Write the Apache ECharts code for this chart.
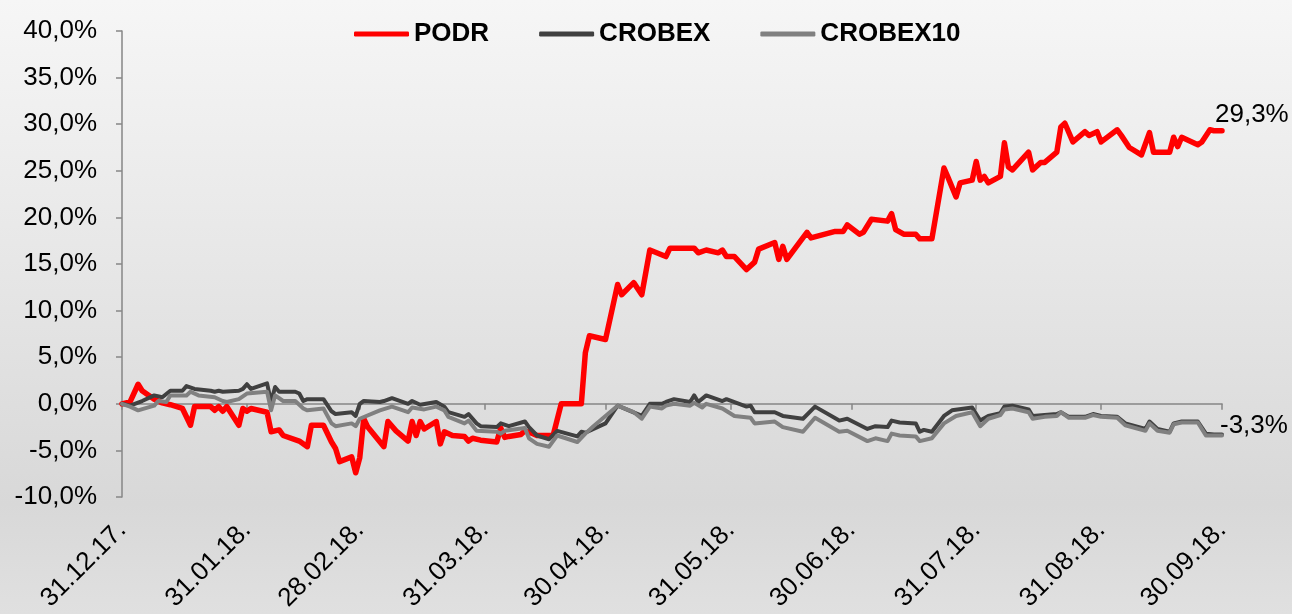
<!DOCTYPE html>
<html><head><meta charset="utf-8">
<script src="https://cdn.jsdelivr.net/npm/echarts@6/dist/echarts.min.js"></script>
<style>
html,body{margin:0;padding:0;}
body{width:1292px;height:614px;background:linear-gradient(to bottom,#f6f6f6 0%,#e6e6e6 45%,#d8d8d8 82%,#e0e0e0 100%);}
#c{width:1292px;height:614px;}
</style></head>
<body><div id="c"></div>
<script>
const seriesNames = ['PODR', 'CROBEX', 'CROBEX10'];
const monthEnds = ['2017-12-31','2018-01-31','2018-02-28','2018-03-31','2018-04-30','2018-05-31','2018-06-30','2018-07-31','2018-08-31','2018-09-30'];
const yTicks = [-10, -5, 0, 5, 10, 15, 20, 25, 30, 35, 40];

const podrDates = ['2017-12-31','2018-01-02','2018-01-04','2018-01-05','2018-01-08','2018-01-10','2018-01-12','2018-01-15','2018-01-17','2018-01-18','2018-01-22','2018-01-23','2018-01-24','2018-01-25','2018-01-26','2018-01-29','2018-01-30','2018-01-31','2018-02-01','2018-02-05','2018-02-06','2018-02-08','2018-02-09','2018-02-13','2018-02-15','2018-02-16','2018-02-19','2018-02-21','2018-02-22','2018-02-23','2018-02-26','2018-02-27','2018-02-28','2018-03-01','2018-03-02','2018-03-06','2018-03-07','2018-03-09','2018-03-12','2018-03-13','2018-03-14','2018-03-15','2018-03-16','2018-03-19','2018-03-20','2018-03-21','2018-03-23','2018-03-26','2018-03-27','2018-03-28','2018-03-30','2018-04-03','2018-04-04','2018-04-05','2018-04-06','2018-04-09','2018-04-10','2018-04-12','2018-04-13','2018-04-17','2018-04-19','2018-04-24','2018-04-25','2018-04-26','2018-04-30','2018-05-03','2018-05-04','2018-05-07','2018-05-09','2018-05-11','2018-05-15','2018-05-16','2018-05-22','2018-05-23','2018-05-25','2018-05-28','2018-05-29','2018-05-30','2018-06-01','2018-06-04','2018-06-06','2018-06-07','2018-06-11','2018-06-12','2018-06-13','2018-06-14','2018-06-19','2018-06-20','2018-06-26','2018-06-28','2018-06-29','2018-07-02','2018-07-03','2018-07-05','2018-07-09','2018-07-10','2018-07-11','2018-07-13','2018-07-16','2018-07-17','2018-07-20','2018-07-23','2018-07-24','2018-07-26','2018-07-27','2018-07-30','2018-07-31','2018-08-01','2018-08-02','2018-08-03','2018-08-06','2018-08-07','2018-08-08','2018-08-09','2018-08-13','2018-08-14','2018-08-16','2018-08-17','2018-08-20','2018-08-21','2018-08-22','2018-08-24','2018-08-27','2018-08-28','2018-08-30','2018-08-31','2018-09-04','2018-09-05','2018-09-07','2018-09-10','2018-09-12','2018-09-13','2018-09-17','2018-09-18','2018-09-19','2018-09-20','2018-09-24','2018-09-25','2018-09-27','2018-09-28','2018-09-30'];
const podrValues = [0.0,0.2,2.1,1.4,0.5,0.1,-0.1,-0.5,-2.3,-0.3,-0.3,-0.7,-0.3,-0.8,-0.3,-2.3,-0.5,-0.8,-0.5,-0.9,-3.0,-2.8,-3.4,-4.0,-4.6,-2.3,-2.3,-4.1,-4.8,-6.2,-5.7,-7.4,-5.8,-1.6,-2.5,-4.6,-1.9,-2.9,-4.0,-1.9,-3.4,-1.9,-2.7,-1.9,-4.3,-3.0,-3.4,-3.5,-4.0,-3.7,-3.9,-4.1,-2.6,-3.6,-3.5,-3.3,-2.9,-3.2,-3.4,-3.4,0.0,0.0,5.5,7.3,6.9,12.8,11.7,13.0,11.7,16.5,15.8,16.7,16.7,16.2,16.5,16.2,16.5,15.8,15.8,14.4,15.2,16.6,17.3,15.5,16.9,15.5,18.4,17.8,18.5,18.5,19.2,18.2,18.4,19.8,19.6,20.4,18.7,18.2,18.2,17.7,17.7,25.3,24.3,22.2,23.7,24.0,26.0,24.0,24.4,23.7,24.4,28.0,25.4,25.1,27.0,25.1,25.9,25.9,27.0,29.7,30.1,28.1,29.2,28.8,29.2,28.1,29.4,28.8,27.5,26.7,29.1,27.0,27.0,28.6,27.6,28.6,27.8,28.1,29.4,29.3,29.3];

const crobexDates = ['2017-12-31','2018-01-02','2018-01-05','2018-01-08','2018-01-10','2018-01-12','2018-01-15','2018-01-16','2018-01-18','2018-01-22','2018-01-23','2018-01-24','2018-01-25','2018-01-29','2018-01-30','2018-01-31','2018-02-01','2018-02-05','2018-02-06','2018-02-07','2018-02-08','2018-02-12','2018-02-13','2018-02-14','2018-02-15','2018-02-19','2018-02-21','2018-02-22','2018-02-26','2018-02-27','2018-02-28','2018-03-01','2018-03-05','2018-03-06','2018-03-08','2018-03-12','2018-03-13','2018-03-15','2018-03-19','2018-03-21','2018-03-22','2018-03-26','2018-03-27','2018-03-29','2018-03-30','2018-04-03','2018-04-04','2018-04-06','2018-04-10','2018-04-11','2018-04-13','2018-04-16','2018-04-18','2018-04-23','2018-04-24','2018-04-25','2018-04-30','2018-05-03','2018-05-08','2018-05-09','2018-05-11','2018-05-14','2018-05-15','2018-05-17','2018-05-21','2018-05-22','2018-05-23','2018-05-25','2018-05-29','2018-05-30','2018-06-04','2018-06-05','2018-06-06','2018-06-11','2018-06-13','2018-06-18','2018-06-21','2018-06-27','2018-06-29','2018-07-04','2018-07-06','2018-07-09','2018-07-10','2018-07-12','2018-07-16','2018-07-17','2018-07-18','2018-07-20','2018-07-23','2018-07-25','2018-07-30','2018-08-01','2018-08-03','2018-08-06','2018-08-07','2018-08-09','2018-08-13','2018-08-14','2018-08-17','2018-08-20','2018-08-21','2018-08-23','2018-08-27','2018-08-29','2018-08-31','2018-09-04','2018-09-06','2018-09-11','2018-09-12','2018-09-14','2018-09-17','2018-09-18','2018-09-20','2018-09-24','2018-09-26','2018-09-28','2018-09-30'];
const crobexValues = [0.0,-0.2,0.3,0.9,0.7,1.4,1.4,1.9,1.6,1.4,1.3,1.4,1.3,1.4,1.6,2.1,1.6,2.2,0.2,1.8,1.3,1.3,1.1,0.3,0.5,0.5,-0.8,-1.1,-0.9,-1.3,0.0,0.3,0.2,0.3,0.6,0.0,0.3,-0.1,0.2,-0.3,-0.9,-1.4,-1.1,-2.1,-2.4,-2.5,-2.1,-2.4,-1.9,-2.5,-3.4,-3.8,-2.9,-3.5,-3.0,-3.1,-2.1,-0.2,-1.1,-1.3,0.0,0.0,0.2,0.5,0.2,0.9,0.2,0.9,0.3,0.5,-0.3,-0.2,-0.9,-0.9,-1.3,-1.6,-0.3,-1.8,-1.6,-2.7,-2.4,-2.5,-1.8,-2.0,-2.1,-3.0,-2.8,-3.0,-1.3,-0.7,-0.4,-1.8,-1.3,-1.0,-0.3,-0.2,-0.6,-1.3,-1.2,-1.1,-0.9,-1.4,-1.4,-1.1,-1.3,-1.4,-2.1,-2.7,-1.9,-2.7,-3.0,-2.1,-1.9,-1.9,-3.2,-3.3,-3.3];

const crobex10Dates = ['2017-12-31','2018-01-02','2018-01-04','2018-01-08','2018-01-09','2018-01-11','2018-01-12','2018-01-16','2018-01-17','2018-01-19','2018-01-23','2018-01-25','2018-01-26','2018-01-29','2018-01-31','2018-02-05','2018-02-06','2018-02-07','2018-02-09','2018-02-12','2018-02-14','2018-02-15','2018-02-19','2018-02-21','2018-02-22','2018-02-26','2018-02-27','2018-02-28','2018-03-05','2018-03-08','2018-03-12','2018-03-13','2018-03-16','2018-03-19','2018-03-21','2018-03-22','2018-03-26','2018-03-27','2018-03-29','2018-04-03','2018-04-04','2018-04-05','2018-04-10','2018-04-11','2018-04-13','2018-04-16','2018-04-17','2018-04-18','2018-04-23','2018-04-25','2018-04-27','2018-05-03','2018-05-07','2018-05-09','2018-05-11','2018-05-14','2018-05-15','2018-05-17','2018-05-21','2018-05-22','2018-05-24','2018-05-25','2018-05-29','2018-06-01','2018-06-05','2018-06-06','2018-06-11','2018-06-13','2018-06-18','2018-06-21','2018-06-27','2018-06-29','2018-07-04','2018-07-06','2018-07-09','2018-07-10','2018-07-12','2018-07-16','2018-07-17','2018-07-20','2018-07-23','2018-07-26','2018-07-30','2018-08-01','2018-08-03','2018-08-06','2018-08-07','2018-08-09','2018-08-13','2018-08-14','2018-08-17','2018-08-20','2018-08-21','2018-08-23','2018-08-27','2018-08-29','2018-08-31','2018-09-04','2018-09-06','2018-09-11','2018-09-12','2018-09-14','2018-09-17','2018-09-18','2018-09-20','2018-09-24','2018-09-26','2018-09-28','2018-09-30'];
const crobex10Values = [0.0,-0.3,-0.7,-0.2,0.3,0.2,0.9,0.9,1.3,0.9,0.7,0.3,0.2,0.5,1.1,1.3,-0.7,0.9,0.3,0.3,-0.5,-0.7,-0.5,-2.1,-2.4,-2.1,-2.4,-1.6,-0.7,-0.3,-0.9,-0.4,-0.6,-0.3,-0.7,-1.4,-2.1,-1.8,-2.9,-3.0,-3.2,-2.9,-2.6,-3.7,-4.3,-4.6,-4.0,-3.4,-4.1,-3.2,-2.4,-0.2,-0.9,-1.6,-0.3,-0.5,-0.2,0.0,-0.2,0.1,-0.4,0.0,-0.5,-1.3,-1.5,-2.1,-1.9,-2.5,-3.0,-1.5,-3.0,-2.9,-4.0,-3.7,-4.0,-3.2,-3.4,-3.5,-4.0,-3.7,-2.1,-1.3,-0.9,-2.4,-1.6,-1.2,-0.6,-0.5,-0.9,-1.6,-1.4,-1.3,-0.9,-1.5,-1.5,-1.2,-1.4,-1.5,-2.3,-2.9,-2.1,-2.9,-3.1,-2.2,-2.0,-2.0,-3.4,-3.4,-3.4];

function ts(s) { const p = s.split('-').map(Number); return Date.UTC(p[0], p[1] - 1, p[2]); }
function pairs(dates, vals) { return dates.map((d, i) => [ts(d), vals[i]]); }
function pct(v) { return v.toFixed(1).replace('.', ',') + '%'; }
function dlabel(v) {
  const d = new Date(v);
  const dd = String(d.getUTCDate()).padStart(2, '0');
  const mm = String(d.getUTCMonth() + 1).padStart(2, '0');
  const yy = String(d.getUTCFullYear()).slice(2);
  return dd + '.' + mm + '.' + yy + '.';
}

const FONT = "'Liberation Sans', Arial, sans-serif";
const tickVals = monthEnds.map(ts);
const xMin = ts(monthEnds[0]), xMax = ts(monthEnds[monthEnds.length - 1]);

const chart = echarts.init(document.getElementById('c'), null, { renderer: 'canvas' });
chart.setOption({
  backgroundColor: 'transparent',
  animation: false,
  textStyle: { fontFamily: FONT },
  legend: {
    left: 349, top: 16,
    itemWidth: 55, itemHeight: 5, itemGap: 50,
    icon: 'roundRect',
    textStyle: { fontFamily: FONT, fontSize: 26, fontWeight: 'bold', color: '#000' },
    data: seriesNames
  },
  grid: { left: 122, right: 70, top: 31, bottom: 115, containLabel: false },
  xAxis: [
    {
      type: 'value', min: xMin, max: xMax, position: 'bottom',
      axisLine: { show: false, onZero: false },
      axisTick: { show: false },
      splitLine: { show: false },
      axisLabel: {
        customValues: tickVals, rotate: 45, margin: 29,
        fontFamily: FONT, fontSize: 26, color: '#000',
        formatter: dlabel, hideOverlap: false
      }
    },
    {
      type: 'value', min: xMin, max: xMax, position: 'bottom',
      axisLine: { show: true, onZero: true, lineStyle: { color: '#868686', width: 1.5 } },
      axisTick: { show: true, customValues: tickVals, length: 6, lineStyle: { color: '#868686', width: 1.5 } },
      axisLabel: { show: false },
      splitLine: { show: false }
    }
  ],
  yAxis: {
    type: 'value', min: yTicks[0], max: yTicks[yTicks.length - 1], interval: 5,
    axisLine: { show: true, lineStyle: { color: '#868686', width: 1.5 } },
    axisTick: { show: true, length: 6, lineStyle: { color: '#868686', width: 1.5 } },
    splitLine: { show: false },
    axisLabel: { fontFamily: FONT, fontSize: 26, color: '#000', margin: 25, formatter: pct }
  },
  series: [
    {
      name: seriesNames[0], type: 'line', xAxisIndex: 0, data: pairs(podrDates, podrValues),
      showSymbol: false, symbol: 'none', color: '#FF0000',
      lineStyle: { color: '#FF0000', width: 5.5, join: 'round', cap: 'round' },
      endLabel: { show: true, formatter: p => pct(p.value[1]), fontFamily: FONT, fontSize: 26, color: '#000', offset: [-15, -16] }
    },
    {
      name: seriesNames[1], type: 'line', xAxisIndex: 0, data: pairs(crobexDates, crobexValues),
      showSymbol: false, symbol: 'none', color: '#404040',
      lineStyle: { color: '#404040', width: 4, join: 'round', cap: 'round' },
      endLabel: { show: true, formatter: p => pct(p.value[1]), fontFamily: FONT, fontSize: 26, color: '#000', offset: [-10, -9] }
    },
    {
      name: seriesNames[2], type: 'line', xAxisIndex: 0, data: pairs(crobex10Dates, crobex10Values),
      showSymbol: false, symbol: 'none', color: '#808080',
      lineStyle: { color: '#808080', width: 4, join: 'round', cap: 'round' }
    }
  ]
});
</script>
</body></html>
